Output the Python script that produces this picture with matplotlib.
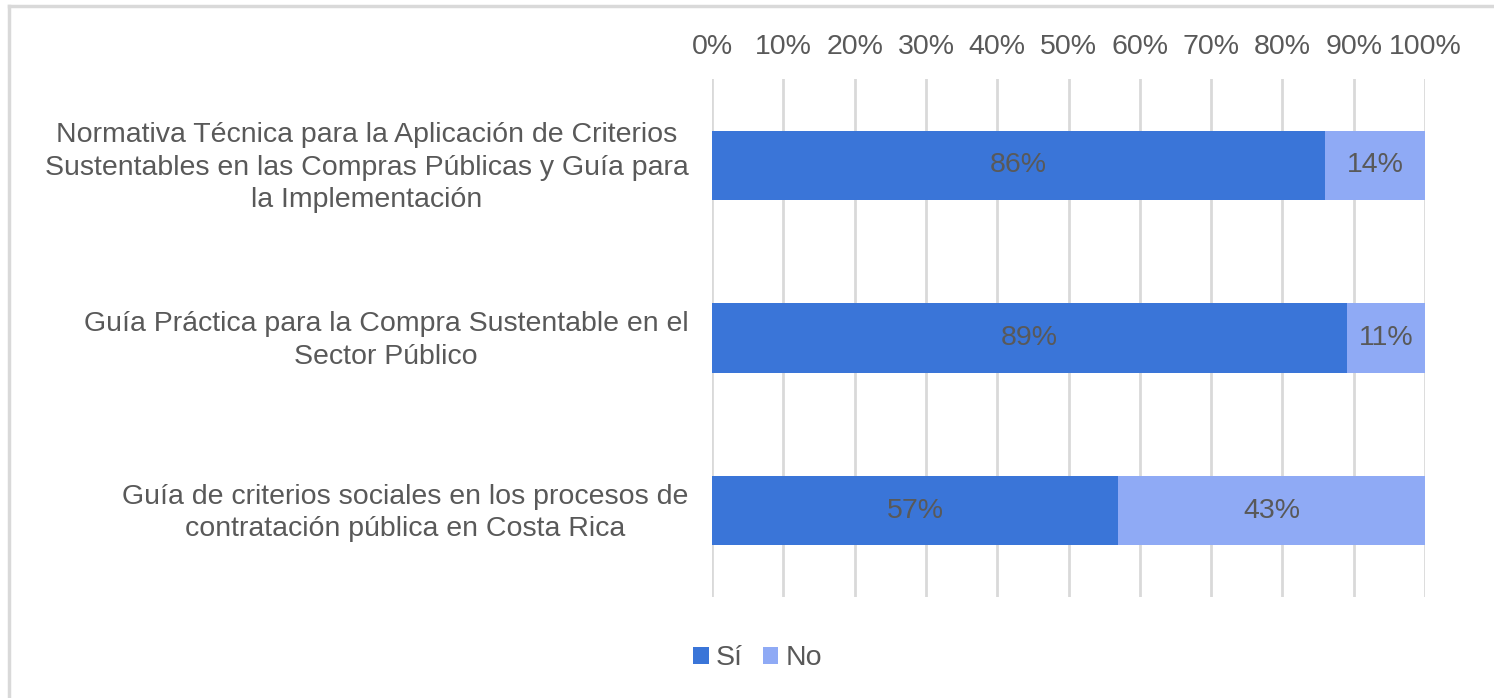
import matplotlib.pyplot as plt
import matplotlib.transforms as mtransforms
import numpy as np

plt.rcParams['font.family'] = ['Liberation Sans', 'DejaVu Sans']

categorias = [
    "Normativa Técnica para la Aplicación de Criterios\nSustentables en las Compras Públicas y Guía para\nla Implementación",
    "Guía Práctica para la Compra Sustentable en el\nSector Público",
    "Guía de criterios sociales en los procesos de\ncontratación pública en Costa Rica",
]
si = [86, 89, 57]
no = [14, 11, 43]

color_si = '#3A75D8'
color_no = '#8FAAF5'
gris = '#595959'
fs = 20.5

fig = plt.figure(figsize=(14.94, 6.98), dpi=100)
ax = fig.add_axes([0.4766, 0.1447, 0.4772, 0.7421])

y = np.arange(len(categorias))
b1 = ax.barh(y, si, height=0.4, color=color_si, label='Sí', zorder=3)
b2 = ax.barh(y, no, left=si, height=0.4, color=color_no, label='No', zorder=3)

for bars, vals in ((b1, si), (b2, no)):
    for rect, v in zip(bars, vals):
        ax.text(rect.get_x() + rect.get_width() / 2, rect.get_y() + rect.get_height() / 2,
                f'{v}%', ha='center', va='center', fontsize=fs, color=gris, zorder=4)

ax.set_xlim(0, 100)
ax.set_ylim(2.5, -0.5)
ax.set_xticks(range(0, 101, 10))
ax.set_xticklabels([f'{t}%' for t in range(0, 101, 10)])
ax.xaxis.tick_top()
ax.set_yticks(y)
ax.set_yticklabels(categorias, multialignment='center', linespacing=1.33)
ax.tick_params(axis='both', length=0, labelsize=fs, labelcolor=gris)
ax.tick_params(axis='x', pad=14)
ax.tick_params(axis='y', pad=17)
ax.grid(axis='x', color='#D9D9D9', linewidth=2, zorder=0)
for s in ax.spines.values():
    s.set_visible(False)

# subir un poco las etiquetas de las categorias
desplazar = mtransforms.ScaledTranslation(0, 4 / 100, fig.dpi_scale_trans)
for lab in ax.get_yticklabels():
    lab.set_transform(lab.get_transform() + desplazar)

leg = fig.legend(handles=[b1, b2], labels=['Sí', 'No'], loc='center', bbox_to_anchor=(0.507, 0.057),
                 ncol=2, frameon=False, fontsize=fs, handlelength=0.55, handleheight=0.55,
                 handletextpad=0.25, columnspacing=0.7)
for t in leg.get_texts():
    t.set_color(gris)

# marco gris arriba y a la izquierda
fig.add_artist(plt.Line2D([0.0057, 1.0], [0.9914, 0.9914], color='#D9D9D9', linewidth=2.5,
                          transform=fig.transFigure))
fig.add_artist(plt.Line2D([0.0057, 0.0057], [0.0, 0.9914], color='#D9D9D9', linewidth=2.5,
                          transform=fig.transFigure))

fig.savefig('out.png', dpi=100)
